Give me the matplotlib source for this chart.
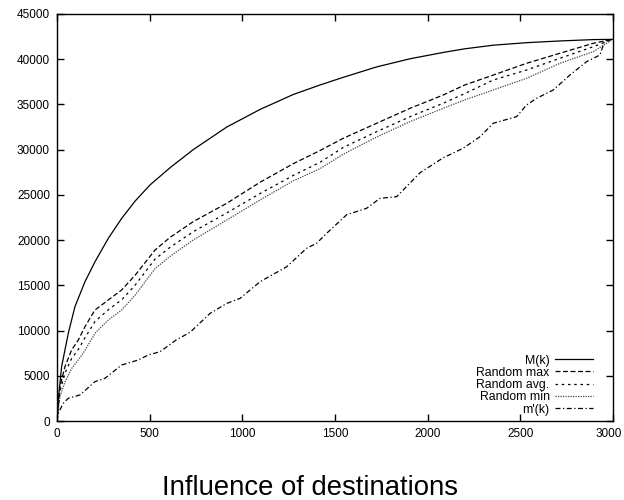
import matplotlib
matplotlib.use("Agg")
import matplotlib.pyplot as plt
import matplotlib.transforms as mtransforms

plt.rcParams['font.family'] = ['Liberation Sans', 'DejaVu Sans']

# M(k)
k_M = [0, 7, 25, 61, 97, 151, 205, 277, 349, 421, 502, 610, 735, 916, 1096,
       1275, 1419, 1545, 1725, 1905, 2084, 2200, 2354, 2534, 2714, 2894, 3000]
M_k = [0, 2330, 6000, 9700, 12640, 15400, 17600, 20200, 22400, 24300, 26100,
       28000, 30000, 32500, 34450, 36100, 37150, 38000, 39150, 40050, 40750,
       41150, 41550, 41830, 42020, 42170, 42200]

# random runs, shared k values
k_r = [0, 16, 43, 79, 115, 151, 205, 277, 349, 421, 529, 610, 735, 916, 1096,
       1275, 1419, 1545, 1725, 1905, 2084, 2200, 2354, 2534, 2714, 2894, 3000]
rand_max = [0, 3800, 6000, 7850, 8950, 10430, 12270, 13380, 14490, 16100,
            18900, 20300, 22040, 24070, 26400, 28450, 29900, 31260, 32920,
            34570, 36040, 37150, 38250, 39550, 40660, 41760, 42200]
rand_avg = [0, 3300, 5300, 6900, 7900, 9200, 11000, 12300, 13400, 15000,
            17900, 19200, 20930, 23000, 25150, 27150, 28600, 30250, 31990,
            33650, 35130, 36200, 37700, 38810, 40100, 41390, 42200]
rand_min = [0, 2700, 4300, 5800, 6750, 7800, 9700, 11170, 12270, 13900,
            16850, 18200, 20010, 22220, 24440, 26550, 27900, 29500, 31400,
            33100, 34570, 35500, 36600, 37890, 39550, 40840, 42200]

# m'(k) is jagged, read on its own grid
k_m = [0, 7, 34, 61, 124, 205, 259, 349, 439, 493, 556, 646, 718, 826, 916,
       988, 1096, 1240, 1347, 1401, 1455, 1563, 1671, 1743, 1833, 1959, 2084,
       2192, 2283, 2354, 2480, 2534, 2588, 2678, 2768, 2858, 2930, 2957, 3000]
m_prime = [0, 850, 1960, 2510, 2880, 4350, 4720, 6190, 6750, 7300, 7660, 9000,
           9800, 11900, 13000, 13560, 15400, 17060, 19100, 19650, 20750,
           22800, 23520, 24620, 24800, 27450, 29100, 30160, 31440, 32920,
           33650, 34940, 35680, 36600, 38260, 39730, 40470, 42130, 42200]

fig = plt.figure(figsize=(6.24, 5.0), dpi=100)
ax = fig.add_axes([0.0913, 0.158, 0.891, 0.814])

lw = 0.9
ax.plot(k_M, M_k, color='black', lw=lw, label='M(k)')
ax.plot(k_r, rand_max, color='black', lw=lw, dashes=(4, 2), label='Random max')
ax.plot(k_r, rand_avg, color='black', lw=lw, dashes=(2, 3), label='Random avg.')
ax.plot(k_r, rand_min, color='#444444', lw=lw, dashes=(1, 1), label='Random min')
ax.plot(k_m, m_prime, color='black', lw=lw, dashes=(4, 2, 1, 2), label="m'(k)")

ax.set_xlim(0, 3000)
ax.set_ylim(0, 45000)
ax.set_xticks(range(0, 3001, 500))
ax.set_yticks(range(0, 45001, 5000))
ax.tick_params(direction='in', top=True, right=True, length=5, width=1,
               labelsize=8.5, pad=5)
for s in ax.spines.values():
    s.set_linewidth(1)

# nudge the last x label so it stays inside the figure
last = ax.get_xticklabels()[-1]
last.set_transform(last.get_transform() +
                   mtransforms.ScaledTranslation(-4 / 100, 0, fig.dpi_scale_trans))

ax.legend(loc='lower right', bbox_to_anchor=(0.974, 0.0), frameon=False,
          markerfirst=False, fontsize=8.8, handlelength=3.1, handletextpad=0.45,
          labelspacing=0.02, borderaxespad=0.05)

fig.text(0.497, 0.01, 'Influence of destinations', ha='center', va='baseline',
         fontsize=19.8)

fig.savefig('out.png', dpi=100)
